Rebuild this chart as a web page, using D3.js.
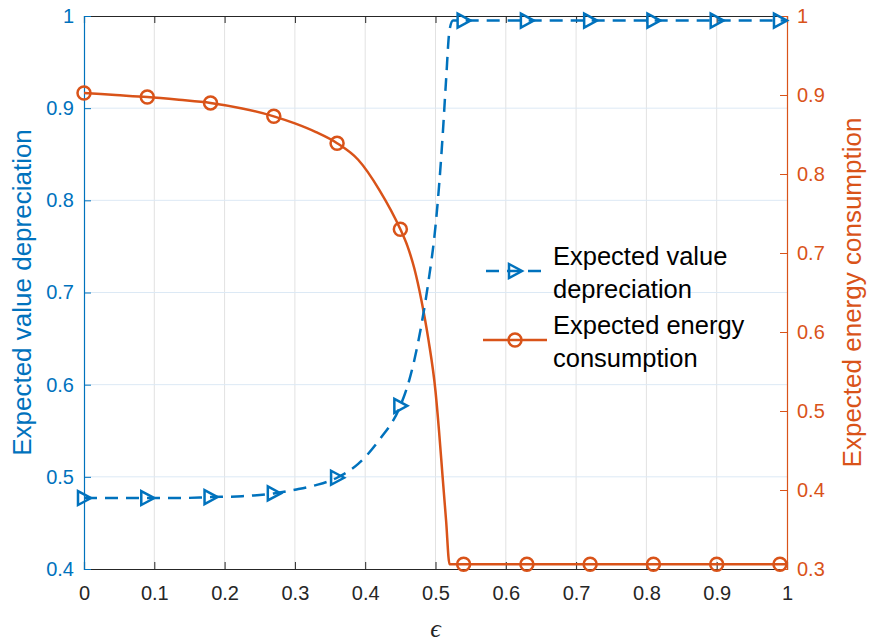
<!DOCTYPE html>
<html>
<head>
<meta charset="utf-8">
<script src="https://cdn.jsdelivr.net/npm/d3@7/dist/d3.min.js"></script>
<style>
  html, body { margin: 0; padding: 0; background: #fff; }
  svg { display: block; font-family: "Liberation Sans", Arial, Helvetica, sans-serif; }
</style>
</head>
<body>
<svg id="chart" width="869" height="643"></svg>
<script>
// ---- data ----
const epsilon = [0, 0.045, 0.09, 0.135, 0.18, 0.225, 0.27, 0.30, 0.33, 0.36, 0.39, 0.42, 0.45, 0.46, 0.47, 0.48, 0.49, 0.50, 0.505, 0.51, 0.515, 0.52, 0.525, 0.54, 0.63, 0.72, 0.81, 0.90, 0.99, 1.0];
const valueDepreciation = [0.477, 0.477, 0.477, 0.477, 0.478, 0.479, 0.482, 0.486, 0.491, 0.499, 0.514, 0.540, 0.577, 0.598, 0.627, 0.665, 0.712, 0.772, 0.815, 0.868, 0.930, 0.985, 0.995, 0.995, 0.995, 0.995, 0.995, 0.995, 0.995, 0.995];
const energyConsumption = [0.9025, 0.900, 0.8975, 0.894, 0.890, 0.883, 0.873, 0.864, 0.853, 0.839, 0.818, 0.780, 0.730, 0.709, 0.680, 0.640, 0.590, 0.525, 0.475, 0.418, 0.362, 0.306, 0.306, 0.306, 0.306, 0.306, 0.306, 0.306, 0.306, 0.306];
const markerEpsilon = [0, 0.09, 0.18, 0.27, 0.36, 0.45, 0.54, 0.63, 0.72, 0.81, 0.90, 0.99];
const xTicks = [0, 0.1, 0.2, 0.3, 0.4, 0.5, 0.6, 0.7, 0.8, 0.9, 1];
const yLeftTicks = [0.4, 0.5, 0.6, 0.7, 0.8, 0.9, 1];
const yRightTicks = [0.3, 0.4, 0.5, 0.6, 0.7, 0.8, 0.9, 1];
const seriesNames = [["Expected value", "depreciation"], ["Expected energy", "consumption"]];
const xLabel = "ϵ";
const yLeftLabel = "Expected value depreciation";
const yRightLabel = "Expected energy consumption";

// ---- layout ----
const L = 84, R = 787, T = 16, B = 569;
const blue = "#0072BD", orange = "#D95319", dark = "#262626";
const lw = 2.5;

const svg = d3.select("#chart");
const x = d3.scaleLinear().domain([0, 1]).range([L, R]);
const yL = d3.scaleLinear().domain([0.4, 1]).range([B, T]);
const yR = d3.scaleLinear().domain([0.3, 1]).range([B, T]);

// grid
svg.append("g").selectAll("line").data(xTicks.slice(1, -1)).join("line")
  .attr("x1", d => x(d)).attr("x2", d => x(d)).attr("y1", T).attr("y2", B)
  .attr("stroke", "#e2e2e2").attr("stroke-width", 1);
svg.append("g").selectAll("line").data(yLeftTicks.slice(1, -1)).join("line")
  .attr("x1", L).attr("x2", R).attr("y1", d => yL(d)).attr("y2", d => yL(d))
  .attr("stroke", "#dce9f5").attr("stroke-width", 1);

// axes
const tickLen = 7;
const tickFont = "20px";
const gxB = svg.append("g").attr("transform", `translate(0,${B})`)
  .call(d3.axisBottom(x).tickValues(xTicks).tickSize(-tickLen).tickPadding(17).tickFormat(d3.format("~g")));
const gxT = svg.append("g").attr("transform", `translate(0,${T})`)
  .call(d3.axisTop(x).tickValues(xTicks).tickSize(-tickLen).tickFormat(""));
[gxB, gxT].forEach(g => {
  g.select(".domain").attr("stroke", dark).attr("stroke-width", 1.2);
  g.selectAll(".tick line").attr("stroke", dark);
  g.selectAll("text").attr("fill", dark).style("font-size", tickFont).style("font-family", "Liberation Sans, Arial, sans-serif");
});
const gyL = svg.append("g").attr("transform", `translate(${L},0)`)
  .call(d3.axisLeft(yL).tickValues(yLeftTicks).tickSize(-tickLen).tickPadding(10).tickFormat(d3.format("~g")));
gyL.select(".domain").attr("stroke", blue).attr("stroke-width", 1.2);
gyL.selectAll(".tick line").attr("stroke", blue);
gyL.selectAll("text").attr("fill", blue).style("font-size", tickFont).style("font-family", "Liberation Sans, Arial, sans-serif");
const gyR = svg.append("g").attr("transform", `translate(${R},0)`)
  .call(d3.axisRight(yR).tickValues(yRightTicks).tickSize(-tickLen).tickPadding(10).tickFormat(d3.format("~g")));
gyR.select(".domain").attr("stroke", orange).attr("stroke-width", 1.2);
gyR.selectAll(".tick line").attr("stroke", orange);
gyR.selectAll("text").attr("fill", orange).style("font-size", tickFont).style("font-family", "Liberation Sans, Arial, sans-serif");

// lines
const pts = epsilon.map((e, i) => ({e, v: valueDepreciation[i], c: energyConsumption[i]}));
const lineBlue = d3.line().x(d => x(d.e)).y(d => yL(d.v)).curve(d3.curveMonotoneX);
const lineOrange = d3.line().x(d => x(d.e)).y(d => yR(d.c)).curve(d3.curveMonotoneX);
svg.append("path").datum(pts).attr("d", lineOrange).attr("fill", "none")
  .attr("stroke", orange).attr("stroke-width", lw);
svg.append("path").datum(pts).attr("d", lineBlue).attr("fill", "none")
  .attr("stroke", blue).attr("stroke-width", lw).attr("stroke-dasharray", "13,8");

const markPts = pts.filter(p => markerEpsilon.some(m => Math.abs(m - p.e) < 1e-9));
const tri = "M-6,-7L7,0L-6,7Z";
svg.append("g").selectAll("path").data(markPts).join("path")
  .attr("d", tri).attr("transform", d => `translate(${x(d.e)},${yL(d.v)})`)
  .attr("fill", "none").attr("stroke", blue).attr("stroke-width", lw);
svg.append("g").selectAll("circle").data(markPts).join("circle")
  .attr("cx", d => x(d.e)).attr("cy", d => yR(d.c)).attr("r", 6.5)
  .attr("fill", "none").attr("stroke", orange).attr("stroke-width", lw);

// legend
const lg = svg.append("g");
const legY = [271, 340];
const lx0 = 483, lx1 = 547, lxm = 515, ltx = 553;
lg.append("line").attr("x1", lx0).attr("x2", lx1).attr("y1", legY[0]).attr("y2", legY[0])
  .attr("stroke", blue).attr("stroke-width", lw).attr("stroke-dasharray", "13,8").attr("stroke-dashoffset", -3);
lg.append("path").attr("d", tri).attr("transform", `translate(${lxm},${legY[0]})`)
  .attr("fill", "none").attr("stroke", blue).attr("stroke-width", lw);
lg.append("line").attr("x1", lx0).attr("x2", lx1).attr("y1", legY[1]).attr("y2", legY[1])
  .attr("stroke", orange).attr("stroke-width", lw);
lg.append("circle").attr("cx", lxm).attr("cy", legY[1]).attr("r", 6.5)
  .attr("fill", "none").attr("stroke", orange).attr("stroke-width", lw);
seriesNames.forEach((lines, i) => {
  const t = lg.append("text").attr("x", ltx).attr("y", legY[i] - 6)
    .attr("fill", "#000").style("font-size", "25.5px");
  lines.forEach((s, j) => t.append("tspan").attr("x", ltx).attr("dy", j === 0 ? 0 : 33).text(s));
});

// axis labels
svg.append("text").attr("x", (L + R) / 2).attr("y", 637).attr("text-anchor", "middle")
  .style("font-family", "Liberation Serif, Times New Roman, serif").style("font-style", "italic")
  .style("font-size", "26px").attr("fill", dark).text(xLabel);
svg.append("text").attr("transform", `translate(31,${(T + B) / 2}) rotate(-90)`)
  .attr("text-anchor", "middle").style("font-size", "26px").attr("fill", blue).text(yLeftLabel);
svg.append("text").attr("transform", `translate(861,${(T + B) / 2}) rotate(-90)`)
  .attr("text-anchor", "middle").style("font-size", "26px").attr("fill", orange).text(yRightLabel);
</script>
</body>
</html>
